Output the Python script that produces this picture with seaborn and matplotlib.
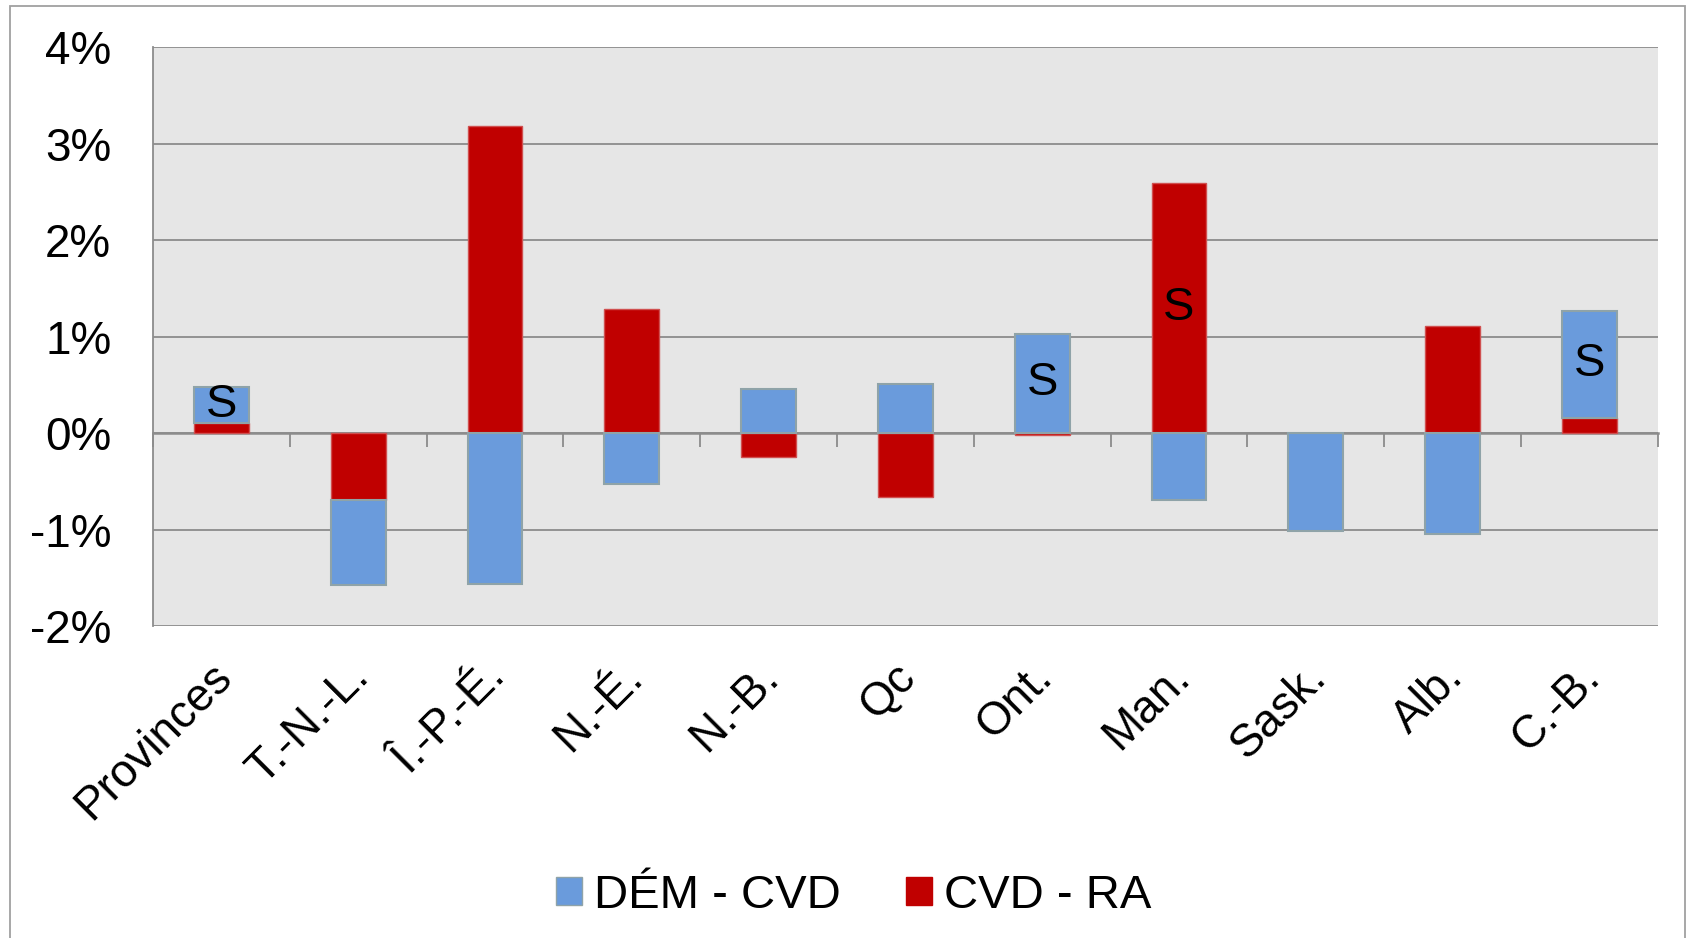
import numpy as np
import pandas as pd
import matplotlib.pyplot as plt
import matplotlib.transforms as mtransforms
from matplotlib.patches import Patch, Rectangle
import seaborn as sns

provinces = ['Provinces', 'T.-N.-L.', 'Î.-P.-É.', 'N.-É.', 'N.-B.', 'Qc',
             'Ont.', 'Man.', 'Sask.', 'Alb.', 'C.-B.']
dem_cvd = [0.38, -0.88, -1.56, -0.53, 0.46, 0.51, 1.03, -0.69, -1.01, -1.05, 1.11]
cvd_ra = [0.10, -0.69, 3.18, 1.29, -0.25, -0.66, -0.02, 2.59, 0.0, 1.11, 0.16]
# which segment gets the "S" flag
s_flags = [('Provinces', 'dem'), ('Ont.', 'dem'), ('Man.', 'cvd'), ('C.-B.', 'dem')]

blue = '#6A9BDC'
red = '#C00000'
grid_col = '#8C8C8C'

sns.set_style('white')
plt.rcParams['font.family'] = ['Liberation Sans', 'DejaVu Sans']
plt.rcParams['text.color'] = 'black'
plt.rcParams['xtick.color'] = 'black'
plt.rcParams['ytick.color'] = 'black'

df = pd.DataFrame({'prov': provinces, 'dem': dem_cvd, 'cvd': cvd_ra})
# stacking like Excel: CVD - RA first, DÉM - CVD on top (same sign) or from zero
df['dem_bottom'] = np.where(np.sign(df['dem']) == np.sign(df['cvd']), df['cvd'], 0.0)

fig = plt.figure(figsize=(16.87, 9.38), dpi=100)
ax = fig.add_axes([0.0907, 0.3326, 0.892, 0.617])
ax.set_facecolor('#E6E6E6')

sns.barplot(data=df, x='prov', y='cvd', color=red, width=0.4, saturation=1,
            edgecolor='#D05050', linewidth=1, ax=ax, zorder=3)
xpos = np.arange(len(df))
ax.bar(xpos, df['dem'], bottom=df['dem_bottom'], width=0.4, color=blue,
       edgecolor='#8FA3A8', linewidth=1.5, zorder=3)

for prov, seg in s_flags:
    r = df[df['prov'] == prov].iloc[0]
    i = provinces.index(prov)
    if seg == 'dem':
        yc = r['dem_bottom'] + r['dem'] / 2
    else:
        yc = r['cvd'] / 2
    ax.text(i, yc, 'S', ha='center', va='center', fontsize=34, color='black', zorder=5)

ax.set_ylim(-2, 4)
ax.set_xlim(-0.5, len(df) - 0.5)
ax.set_yticks(range(-2, 5))
ax.set_yticklabels([f'{v}%' for v in range(-2, 5)])
ax.yaxis.grid(True, color=grid_col, linewidth=1.3, zorder=1)
ax.set_axisbelow(True)
ax.set_xlabel('')
ax.set_ylabel('')
for s in ['top', 'right', 'bottom']:
    ax.spines[s].set_visible(False)
ax.spines['left'].set_color(grid_col)
ax.spines['left'].set_linewidth(1.3)
ax.tick_params(axis='y', length=11, width=1.3, color=grid_col, pad=19,
               labelsize=33, labelcolor='black')
ax.tick_params(axis='x', length=0, pad=22, labelsize=33, labelcolor='black')
ax.set_xticks(xpos)
ax.set_xticklabels(provinces, rotation=45, ha='right', rotation_mode='anchor')
offset = mtransforms.ScaledTranslation(-0.12, 0.02, fig.dpi_scale_trans)
for lab in ax.get_xticklabels():
    lab.set_transform(lab.get_transform() + offset)

# category axis crossing at zero with boundary ticks
sec = ax.secondary_xaxis(1 / 3)
sec.set_xticks(np.arange(-0.5, len(df), 1.0))
sec.set_xticklabels([])
sec.tick_params(axis='x', direction='out', length=10, width=1.3, color=grid_col)
sec.spines['bottom'].set_color(grid_col)
sec.spines['bottom'].set_linewidth(1.8)

handles = [Patch(facecolor=blue, edgecolor='#8FA3A8', label='DÉM - CVD'),
           Patch(facecolor=red, edgecolor=red, label='CVD - RA')]
fig.legend(handles=handles, loc='center', bbox_to_anchor=(0.506, 0.045), ncol=2,
           frameon=False, fontsize=34, handlelength=0.55, handleheight=0.55,
           handletextpad=0.25, columnspacing=1.4)

fig.patches.append(Rectangle((10 / 1687, -0.01), 1675 / 1687, 1.01 - 6 / 938,
                             transform=fig.transFigure, fill=False,
                             edgecolor='#A0A0A0', linewidth=1.3))

fig.savefig('out.png', dpi=100)
